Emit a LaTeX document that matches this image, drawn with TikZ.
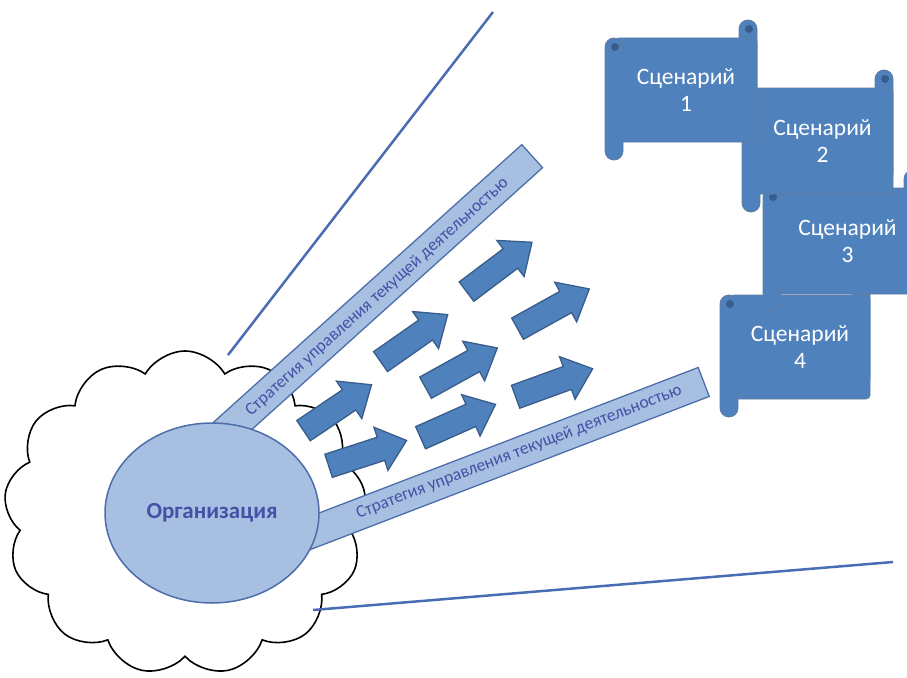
\documentclass[tikz,border=0pt]{standalone}
\usepackage{fontspec}
\setmainfont{Carlito}
\usetikzlibrary{shapes.geometric,shapes.symbols,shapes.arrows}

\definecolor{office}{HTML}{4F81BD}
\definecolor{officedark}{HTML}{385D8A}
\definecolor{paleblue}{HTML}{A7BFE1}
\definecolor{rimblue}{HTML}{4D6EAA}
\definecolor{inkblue}{HTML}{4352A6}
\definecolor{rayblue}{HTML}{4A6CB3}

\tikzset{
  band/.style={draw=rimblue, fill=paleblue, line width=1.3pt, minimum height=31pt, inner sep=0pt},
  bandtext/.style={text=inkblue, font=\fontsize{17.5}{20}\selectfont, inner sep=0pt},
  blockarrow/.style={single arrow, draw=officedark, fill=office, line width=1.3pt,
    minimum height=82pt, minimum width=44pt, inner sep=11.5pt,
    single arrow head extend=10.5pt, single arrow tip angle=80, anchor=tail},
  ray/.style={draw=rayblue, line width=2.5pt},
  scrollpart/.style={draw=officedark!80, fill=office, line width=0.8pt},
  scrolltext/.style={text=white, align=center, font=\fontsize{23.5}{27}\selectfont},
}

\begin{document}
\begin{tikzpicture}[x=1pt,y=-1pt]
\useasboundingbox (0,0) rectangle (907,677);

% cloud behind everything
\node[cloud, draw, fill=white, line width=1.6pt, cloud puffs=13, cloud puff arc=120,
      minimum width=362pt, minimum height=324pt] (cloud) at (185,513) {};

% rays
\coordinate (uptop) at (493,12);
\coordinate (upfoot) at (228,355);
\coordinate (lowfoot) at (313,610);
\coordinate (lowtip) at (893,562);
\draw[ray] (upfoot) -- (uptop);
\draw[ray] (lowfoot) -- (lowtip);

% strategy bands
\node[band, rotate=42, minimum width=415pt] (upband) at (378,295) {};
\node[band, rotate=21, minimum width=430pt] (lowband) at (503,459) {};

% organisation
\node[ellipse, draw=rimblue, fill=paleblue, line width=1.5pt,
      minimum width=214pt, minimum height=180pt,
      text=inkblue, font=\fontsize{23}{26}\selectfont\bfseries] (org) at (212,513) {Организация};

\node[bandtext, rotate=42] (uptext) at (377,297) {Стратегия управления текущей деятельностью};
\node[bandtext, rotate=21] (lowtext) at (519,452) {Стратегия управления текущей деятельностью};

% arrows
\foreach \x/\y/\a [count=\i] in {303/431/34, 328/466/18, 380/362/35, 425/388/29,
    420/438/24, 466/292/37, 517/329/29, 515/397/20}
  \node[blockarrow, rotate=\a] (arr\i) at (\x,\y) {};

% scenarios (4 at the back, 1 in front)
\foreach \L/\T/\R/\B/\n in {720/277/870/417/4, 763/170/922/312/3, 742/70/893/212/2, 605/20/757/160/1}{
  \draw[scrollpart, rounded corners=9pt] (\R-18,\T) rectangle (\R,\B-30);
  \draw[scrollpart, rounded corners=4pt] (\L+10,\T+18) rectangle (\R,\B-18);
  \draw[scrollpart, rounded corners=9pt] (\L,\T+18) rectangle (\L+18,\B);
  \fill[officedark] (\L+10,\T+27) circle (4pt);
  \fill[officedark] (\R-8,\T+9) circle (4pt);
  \node[scrolltext] (sc\n) at ({(\L+\R)/2+5},{(\T+\B)/2}) {Сценарий\\\n};
}
\end{tikzpicture}
\end{document}
